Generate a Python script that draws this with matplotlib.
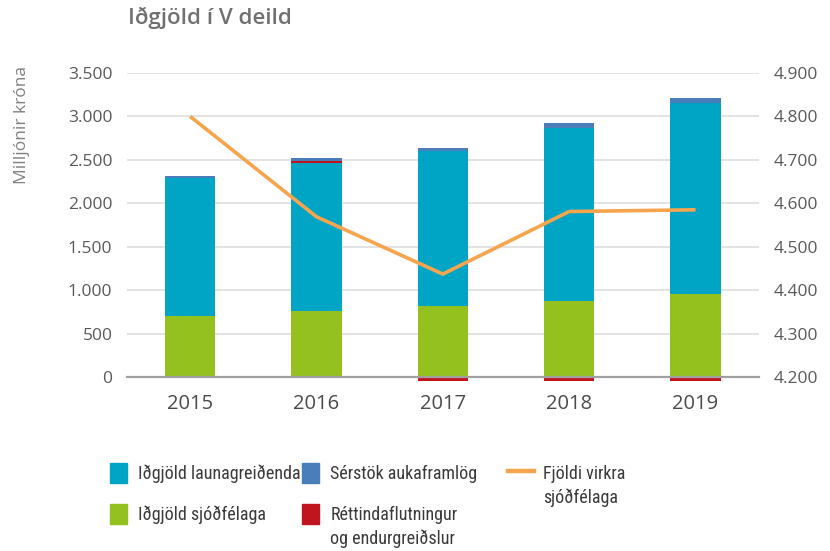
import numpy as np
from matplotlib import pyplot as plt
from matplotlib import font_manager
from matplotlib.patches import Patch
from matplotlib.lines import Line2D
from matplotlib.text import Annotation
from matplotlib.ticker import FuncFormatter

years = ['2015', '2016', '2017', '2018', '2019']
sjodfelaga = np.array([700, 763, 817, 875, 958])
launagreidenda = np.array([1590, 1697, 1789, 1988, 2192])
rettindaflutningur = np.array([0, 30, -42, -42, -42])
serstok = np.array([25, 31, 30, 61, 61])
fjoldi_virkra = [4800, 4569, 4437, 4581, 4585]

left_ticks = [0, 500, 1000, 1500, 2000, 2500, 3000, 3500]
right_ticks = [4200, 4300, 4400, 4500, 4600, 4700, 4800, 4900]

C_TEAL = '#00a5c6'
C_GREEN = '#95c11f'
C_BLUE = '#4a7ebb'
C_RED = '#c0141f'
C_ORANGE = '#f6a54d'
C_TEXT = '#595959'
C_LEGEND = '#3a3a3a'

plt.rcParams['font.family'] = ['Open Sans', 'DejaVu Sans']

# the original uses a narrow DIN-like face in the legend
_names = {f.name for f in font_manager.fontManager.ttflist}
if 'Roboto Condensed' in _names:
    LEGEND_FONT, LEGEND_SIZE = ['Roboto Condensed', 'DejaVu Sans'], 13
else:
    LEGEND_FONT, LEGEND_SIZE = ['Roboto', 'DejaVu Sans'], 11


def thousands(v, _):
    return f'{int(v):,}'.replace(',', '.')


def legend_item(fig, handle, label, x, y, hlen=1.0, pad=0.6, second_line=None):
    # one legend per entry, so each can sit where the original puts it
    leg = fig.legend([handle], [label], loc='center left', bbox_to_anchor=(x, y),
                     frameon=False, borderpad=0, borderaxespad=0,
                     handlelength=hlen * 12.5 / LEGEND_SIZE,
                     handleheight=1.38 * 12.5 / LEGEND_SIZE,
                     handletextpad=pad, prop={'family': LEGEND_FONT, 'size': LEGEND_SIZE},
                     labelcolor=C_LEGEND)
    if second_line:
        # second line hangs under the first, with the square/line beside the first only
        ann = Annotation(second_line, xy=(0, 0.5), xycoords=leg.get_texts()[0],
                         xytext=(0, -17), textcoords='offset points',
                         va='center', ha='left', family=LEGEND_FONT,
                         fontsize=LEGEND_SIZE, color=C_LEGEND, zorder=6)
        fig.add_artist(ann)
    return leg


def main():
    fig = plt.figure(figsize=(8.3, 5.51), dpi=100)
    ax = fig.add_axes([0.153, 0.3158, 0.761, 0.5517])
    x = np.arange(len(years))
    w = 0.4

    ax.bar(x, sjodfelaga, w, color=C_GREEN, zorder=3)
    ax.bar(x, launagreidenda, w, bottom=sjodfelaga, color=C_TEAL, zorder=3)
    top = sjodfelaga + launagreidenda
    red_bottom = np.where(rettindaflutningur >= 0, top, 0)
    ax.bar(x, rettindaflutningur, w, bottom=red_bottom, color=C_RED, zorder=3, clip_on=False)
    ax.bar(x, serstok, w, bottom=top + np.clip(rettindaflutningur, 0, None), color=C_BLUE, zorder=3)

    ax.set_xlim(-0.5, len(years) - 0.5)
    ax.set_ylim(0, 3500)
    ax.set_yticks(left_ticks)
    ax.yaxis.set_major_formatter(FuncFormatter(thousands))
    ax.grid(axis='y', color='#dedede', linewidth=1.2, zorder=0)
    for s in ['top', 'right', 'left']:
        ax.spines[s].set_visible(False)
    ax.spines['bottom'].set_color('#a0a0a0')
    ax.spines['bottom'].set_linewidth(1.6)
    ax.spines['bottom'].set_zorder(4)
    ax.set_xticks(x)
    ax.set_xticklabels(years, fontsize=14.5, color='#4a4a4a')
    ax.tick_params(axis='x', length=0, pad=12)
    ax.tick_params(axis='y', length=0, labelsize=12.5, labelcolor=C_TEXT, pad=10.5)
    ax.set_ylabel('Milljónir króna', fontsize=12.5, color='#808080')
    ax.yaxis.set_label_coords(-0.153, 0.83)

    ax2 = ax.twinx()
    ax2.plot(x, fjoldi_virkra, color=C_ORANGE, linewidth=2.6, solid_capstyle='butt', zorder=5)
    ax2.set_ylim(4200, 4900)
    ax2.set_yticks(right_ticks)
    ax2.yaxis.set_major_formatter(FuncFormatter(thousands))
    ax2.tick_params(axis='y', length=0, labelsize=12.5, labelcolor=C_TEXT, pad=11)
    for s in ax2.spines.values():
        s.set_visible(False)

    fig.text(0.154, 0.967, 'Iðgjöld í V deild', fontsize=16, fontweight='semibold',
             color='#707070', va='center', ha='left')

    legend_item(fig, Patch(color=C_TEAL), 'Iðgjöld launagreiðenda', 0.1325, 0.1416)
    legend_item(fig, Patch(color=C_GREEN), 'Iðgjöld sjóðfélaga', 0.1325, 0.0672)
    legend_item(fig, Patch(color=C_BLUE), 'Sérstök aukaframlög', 0.3638, 0.1416)
    legend_item(fig, Patch(color=C_RED), 'Réttindaflutningur', 0.3638, 0.0672,
                second_line='og endurgreiðslur')
    legend_item(fig, Line2D([], [], color=C_ORANGE, linewidth=3.2), 'Fjöldi virkra',
                0.612, 0.1416, hlen=1.5, pad=0.5, second_line='sjóðfélaga')

    fig.savefig('out.png', dpi=100)


if __name__ == '__main__':
    main()
